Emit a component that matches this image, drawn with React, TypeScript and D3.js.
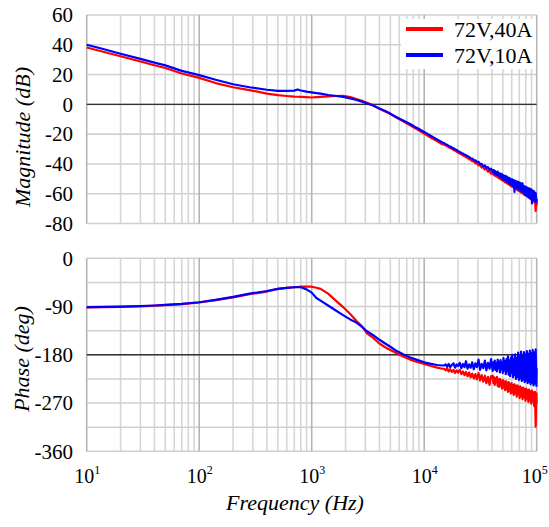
import React from "react";
import * as d3 from "d3";

// smooth part of the sweep (Hz)
const freqLow = [
  10, 14, 20, 30, 40, 50, 70, 100, 140, 200, 280, 400, 500, 600, 700, 750, 800,
  900, 1000, 1100, 1200, 1400, 1600, 1900, 2200, 2500, 2800, 3100, 3500, 4000,
  4500, 5000, 5700, 6500, 7500, 8500, 10000, 11500, 13000, 14500,
];
// noisy high frequency part (Hz)
const freqHigh = [
  15000, 15500, 16000, 16500, 17000, 17600, 18200, 18800, 19400, 20000, 20700,
  21400, 22100, 22800, 23500, 24300, 25100, 25900, 26700, 27600, 28500, 29400,
  30400, 31400, 32400, 33500, 34600, 35700, 36900, 38100, 39300,
  40600, 41200, 41800, 42400, 43000, 43700, 44300, 45000, 45700, 46400, 47100,
  47800, 48500, 49200, 50000, 50700, 51500, 52300, 53100, 53900, 54700, 55500,
  56300, 57200, 58000, 58900, 59800, 60700, 61600, 62500, 63500, 64400, 65400,
  66400, 67400, 68400, 69400, 70500, 71500, 72600, 73700, 74800, 75900, 77100,
  78200, 79400, 80600, 81800, 83100, 84300, 85600, 86900, 88200, 89500, 90900,
  92200, 93600, 95000, 96500, 97900, 99400, 100000,
];

// 72V,40A
const magRedLow = [
  38.2, 35.3, 32.3, 28.8, 26.3, 24.4, 20.7, 17.8, 14.3, 11.5, 9.6, 7.2, 6.2,
  5.6, 5.2, 5.1, 5, 4.8, 4.6, 4.8, 5, 5.4, 5.6, 5.7, 4.9, 3.6, 2.4, 1.1, -0.5,
  -2.9, -4.8, -6.5, -9, -11.4, -14, -16.4, -19.6, -22.4, -24.7, -26.9,
];
const magRedHigh = [
  -26.9, -27.6, -28.0, -28.8, -29.3, -29.8, -30.6, -31.0, -31.8, -32.3, -33.0,
  -33.4, -34.3, -34.6, -35.5, -35.8, -36.9, -37.0, -38.2, -38.3, -39.6, -39.5,
  -41.0, -40.7, -42.4, -42.0, -43.8, -43.1, -45.2, -44.6, -46.5,
  -45.9, -47.2, -46.0, -47.9, -46.6, -48.4, -47.1, -49.0, -47.6, -49.7, -48.1,
  -50.3, -48.8, -50.9, -49.2, -51.6, -49.9, -52.3, -50.4, -53.0, -51.0, -53.4,
  -51.5, -54.2, -52.1, -54.9, -52.6, -55.3, -53.2, -56.1, -53.8, -56.7, -54.3,
  -57.2, -54.9, -57.9, -55.6, -58.5, -56.0, -59.2, -56.6, -59.8, -57.1, -60.4,
  -57.8, -61.1, -58.3, -61.7, -59.0, -62.4, -59.6, -63.1, -60.3, -63.8, -61.0,
  -64.6, -61.8, -65.4, -63.0, -71.5, -64.5, -68.0,
];
const phaseRedLow = [
  -91.5, -91, -90.5, -89.5, -88.5, -87.5, -85.5, -82.5, -78, -73, -67, -62, -57,
  -55, -54, -53.5, -53, -53, -53, -55, -57, -66, -77, -91, -104, -117, -127,
  -140, -148, -159, -166, -171, -177, -183, -189, -193, -197, -201, -204, -206,
];
const phaseRedHigh = [
  -206, -209, -205, -211, -207, -212, -208, -214, -209, -213, -208, -216, -211,
  -218, -212, -220, -213, -222, -215, -224, -216, -226, -214, -228, -218, -230,
  -219, -233, -221, -236, -220,
  -219, -233, -222, -236, -224, -231, -221, -238, -226, -240, -225, -237, -228,
  -243, -227, -241, -230, -246, -229, -244, -232, -249, -231, -247, -234, -252,
  -233, -250, -236, -255, -235, -252, -238, -258, -237, -254, -240, -261, -239,
  -257, -242, -263, -241, -259, -244, -266, -243, -262, -246, -268, -245, -265,
  -248, -271, -247, -267, -250, -276, -249, -314, -252, -272,
];

// 72V,10A
const magBlueLow = [
  40, 37.2, 34, 30.5, 28, 26.2, 22.5, 19.6, 16.5, 13.5, 11.5, 9.8, 9.1, 9, 9.2,
  10, 9.3, 8.6, 8.1, 7.6, 7.2, 6.3, 5.8, 5, 4, 2.9, 1.8, 0.6, -0.8, -2.8, -4.5,
  -6.2, -8.6, -10.8, -13.2, -15.6, -18.5, -21.2, -23.5, -25.6,
];
const magBlueHigh = [
  -26.0, -26.7, -27.2, -27.9, -28.3, -29.0, -29.5, -30.2, -30.6, -31.5, -31.9,
  -32.6, -33.0, -33.8, -34.0, -34.9, -35.3, -36.2, -36.4, -37.4, -37.6, -38.7,
  -38.6, -40.2, -39.9, -41.5, -41.0, -42.6, -42.1, -44.0, -43.2,
  -45.3, -44.1, -46.2, -44.6, -46.9, -45.4, -47.5, -45.2, -47.8, -46.3, -48.9,
  -46.5, -49.2, -47.0, -50.3, -47.6, -50.8, -48.0, -51.6, -48.3, -52.0, -49.1,
  -52.7, -49.4, -53.5, -50.2, -53.9, -50.3, -55.1, -50.9, -58.8, -51.4, -55.8,
  -51.7, -56.6, -52.0, -57.3, -52.5, -57.9, -53.1, -58.6, -53.0, -59.2, -54.9,
  -60.8, -55.2, -61.1, -55.8, -62.0, -56.3, -62.7, -56.6, -63.4, -57.1, -66.5,
  -57.9, -64.0, -58.4, -65.2, -59.6, -66.0, -63.5,
];
const phaseBlueLow = [
  -91, -90.5, -90, -89, -88, -87, -85, -82, -77.5, -72, -66, -61, -57, -55, -54,
  -53.5, -54, -58, -64, -74, -79, -88, -96, -106, -114, -120, -128, -136, -143,
  -152, -159, -165, -173, -179, -185, -189, -194, -197, -199, -200,
];
const phaseBlueHigh = [
  -200, -198, -202, -197, -203, -199, -196, -204, -198, -201, -195, -205, -197,
  -203, -192, -206, -198, -204, -194, -207, -196, -203, -189, -208, -197, -205,
  -191, -209, -195, -206, -188,
  -210, -194, -206, -191, -208, -196, -211, -189, -205, -193, -213, -190, -207,
  -195, -214, -186, -209, -192, -216, -188, -211, -183, -217, -191, -220, -185,
  -214, -180, -222, -188, -218, -179, -225, -186, -221, -176, -227, -183, -224,
  -174, -229, -181, -226, -175, -231, -179, -228, -173, -233, -178, -230, -172,
  -235, -177, -232, -171, -237, -176, -234, -170, -238, -205,
];

const seriesNames = ["72V,40A", "72V,10A"];
const seriesColors = ["#ff0000", "#0000ff"];
const magTicks = [60, 40, 20, 0, -20, -40, -60, -80];
const phaseTicks = [0, -90, -180, -270, -360];
const phaseGrid = [0, -45, -90, -135, -180, -225, -270, -315, -360];
const decades = [1, 2, 3, 4, 5];

const W = 549;
const H = 527;
const left = 86.7;
const right = 536.7;
const serif = "'Liberation Serif', 'Times New Roman', serif";

const App = () => {
  const x = d3.scaleLog().domain([10, 1e5]).range([left, right]);
  const yMag = d3.scaleLinear().domain([60, -80]).range([15, 223.5]);
  const yPh = d3.scaleLinear().domain([0, -360]).range([258.3, 451.3]);

  const freqs = freqLow.concat(freqHigh);
  const mag = [magRedLow.concat(magRedHigh), magBlueLow.concat(magBlueHigh)];
  const ph = [
    phaseRedLow.concat(phaseRedHigh),
    phaseBlueLow.concat(phaseBlueHigh),
  ];

  const minor: number[] = [];
  for (let k = 1; k < 5; k++) {
    for (let m = 2; m < 10; m++) minor.push(m * Math.pow(10, k));
  }

  const magLine = d3
    .line<number>()
    .x((_, i) => x(freqs[i]))
    .y((d) => yMag(d));
  const phLine = d3
    .line<number>()
    .x((_, i) => x(freqs[i]))
    .y((d) => yPh(d));

  const panel = (
    y: d3.ScaleLinear<number, number>,
    grid: number[],
    ticks: number[],
    refLine: number,
    data: number[][],
    gen: d3.Line<number>
  ) => {
    const [top, bottom] = y.range();
    return (
      <g>
        {minor.map((f) => (
          <line
            key={"m" + f}
            x1={x(f)}
            x2={x(f)}
            y1={top}
            y2={bottom}
            stroke="#d6d6d6"
            strokeWidth={1.6}
          />
        ))}
        {grid.map((v) => (
          <line
            key={"h" + v}
            x1={left}
            x2={right}
            y1={y(v)}
            y2={y(v)}
            stroke="#d0d0d0"
            strokeWidth={1.6}
          />
        ))}
        {decades.map((k) => (
          <line
            key={"d" + k}
            x1={x(Math.pow(10, k))}
            x2={x(Math.pow(10, k))}
            y1={top}
            y2={bottom}
            stroke="#b4b4b4"
            strokeWidth={1.6}
          />
        ))}
        <line
          x1={left}
          x2={right}
          y1={y(refLine)}
          y2={y(refLine)}
          stroke="#333"
          strokeWidth={1.4}
        />
        {ticks.map((v) => (
          <text
            key={"t" + v}
            x={73}
            y={y(v)}
            dy="0.35em"
            textAnchor="end"
            fontSize={21}
            fontFamily={serif}
          >
            {v}
          </text>
        ))}
        {data.map((d, i) => (
          <path
            key={i}
            d={gen(d) || ""}
            fill="none"
            stroke={seriesColors[i]}
            strokeWidth={2.2}
            strokeLinejoin="round"
          />
        ))}
      </g>
    );
  };

  return (
    <svg
      width={W}
      height={H}
      style={{ position: "absolute", left: 0, top: 0, background: "#fff" }}
    >
      {panel(yMag, magTicks, magTicks, 0, mag, magLine)}
      {panel(yPh, phaseGrid, phaseTicks, -180, ph, phLine)}

      {/* legend */}
      <rect x={401} y={19} width={135} height={50} fill="#fff" />
      {seriesNames.map((name, i) => (
        <g key={name}>
          <line
            x1={406}
            x2={443}
            y1={29 + i * 26}
            y2={29 + i * 26}
            stroke={seriesColors[i]}
            strokeWidth={4}
          />
          <text x={454} y={37 + i * 26} fontSize={22} fontFamily={serif}>
            {name}
          </text>
        </g>
      ))}

      {/* x tick labels */}
      {decades.map((k) => (
        <text
          key={"x" + k}
          x={x(Math.pow(10, k)) - (k === 5 ? 15 : 12.5)}
          y={483}
          fontSize={20}
          fontFamily={serif}
        >
          10
          <tspan fontSize={12} dy={-9}>
            {k}
          </tspan>
        </text>
      ))}

      <text
        x={295}
        y={510}
        textAnchor="middle"
        fontSize={22}
        fontStyle="italic"
        fontFamily={serif}
      >
        Frequency (Hz)
      </text>
      <text
        transform="translate(30,137) rotate(-90)"
        textAnchor="middle"
        fontSize={22}
        fontStyle="italic"
        fontFamily={serif}
      >
        Magnitude (dB)
      </text>
      <text
        transform="translate(29,359) rotate(-90)"
        textAnchor="middle"
        fontSize={22}
        fontStyle="italic"
        fontFamily={serif}
      >
        Phase (deg)
      </text>
    </svg>
  );
};

export default App;
